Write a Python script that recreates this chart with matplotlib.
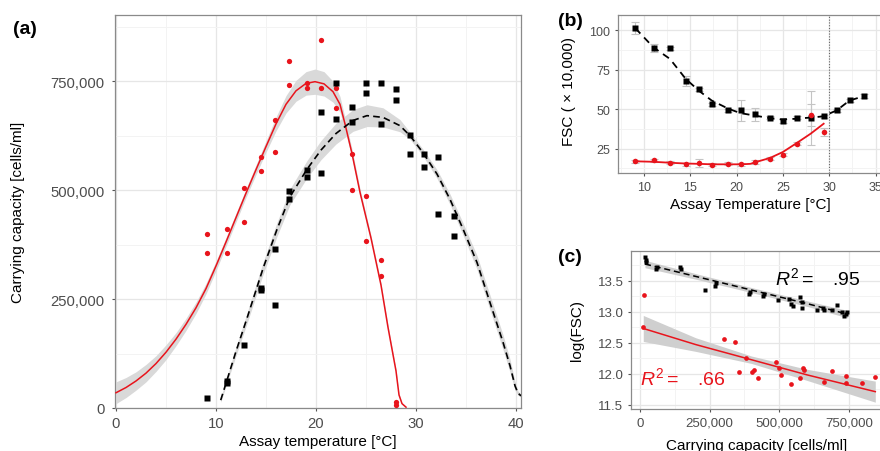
import numpy as np
import matplotlib
matplotlib.use('Agg')
import matplotlib.pyplot as plt
from matplotlib.ticker import MultipleLocator, FuncFormatter

plt.rcParams['font.family'] = ['Liberation Sans', 'DejaVu Sans']
plt.rcParams['mathtext.fontset'] = 'custom'
plt.rcParams['mathtext.rm'] = 'Liberation Sans'
plt.rcParams['mathtext.it'] = 'Liberation Sans:italic'

RED = '#E8141C'
BAND = '#D9D9D9'

# === (a) carrying capacity vs temperature ===
red_T = [9.07, 9.07, 11.07, 11.07, 12.8, 12.8, 14.5, 14.5, 15.9, 15.9, 17.3, 17.3, 19.1, 19.1,
         20.5, 20.5, 22.0, 22.0, 23.6, 23.6, 25.0, 25.0, 26.5, 26.5, 28.0, 28.0]
red_K = [400e3, 355e3, 410e3, 356e3, 505e3, 428e3, 575e3, 543e3, 660e3, 587e3, 797e3, 741e3, 745e3, 734e3,
         845e3, 735e3, 734e3, 688e3, 584e3, 500e3, 486e3, 383e3, 340e3, 302e3, 14e3, 8e3]
blk_T = [9.07, 11.07, 11.07, 12.8, 14.5, 14.5, 15.9, 15.9, 17.3, 17.3, 19.1, 19.1, 20.5, 20.5,
         22.0, 22.0, 23.6, 23.6, 25.0, 25.0, 26.5, 26.5, 28.0, 28.0, 29.4, 29.4, 30.8, 30.8,
         32.2, 32.2, 33.8, 33.8]
blk_K = [24e3, 63e3, 58e3, 145e3, 275e3, 270e3, 365e3, 236e3, 498e3, 479e3, 547e3, 530e3, 680e3, 540e3,
         746e3, 664e3, 690e3, 656e3, 746e3, 722e3, 746e3, 651e3, 733e3, 707e3, 627e3, 583e3, 584e3, 553e3,
         576e3, 445e3, 440e3, 394e3]

# fitted curves (T, fit, half-width of ribbon)
red_fit_T = [0, 1, 2, 3, 4, 5, 6, 7, 8, 9, 10, 11, 12, 13, 14, 15, 16, 17, 18, 19, 19.9, 20.8,
             21.7, 22.4, 22.9, 23.6, 24.4, 25.5, 26.5, 27.2, 28.0, 28.3, 28.6, 29.0]
red_fit_K = [35e3, 47e3, 62e3, 80e3, 102e3, 128e3, 158e3, 192e3, 230e3, 274e3, 326e3, 381e3, 437e3,
             493e3, 547e3, 600e3, 652e3, 697e3, 728e3, 745e3, 749e3, 744e3, 726e3, 697e3, 652e3,
             584e3, 495e3, 390e3, 282e3, 185e3, 85e3, 30e3, 10e3, 2e3]
red_fit_se = [25e3, 23e3, 21e3, 20e3, 18e3, 17e3, 15e3, 14e3, 13e3, 12e3, 11e3, 10e3, 10e3, 10e3,
              11e3, 13e3, 16e3, 20e3, 24e3, 27e3, 29e3, 28e3, 24e3, 18e3, 14e3, 10e3, 8e3, 6e3,
              5e3, 5e3, 4e3, 3e3, 2e3, 1e3]
blk_fit_T = [10.47, 12.0, 13.1, 14.7, 16.1, 17.4, 19.1, 20.5, 22.0, 23.7, 25.1, 26.7, 28.4, 29.4,
             30.7, 32.1, 33.4, 34.7, 36.1, 37.4, 38.7, 39.4, 39.9, 40.2, 40.5]
blk_fit_K = [18e3, 130e3, 206e3, 320e3, 410e3, 485e3, 548e3, 592e3, 630e3, 660e3, 671e3, 667e3,
             648e3, 625e3, 586e3, 537e3, 479e3, 411e3, 334e3, 242e3, 151e3, 97e3, 51e3, 34e3, 28e3]
blk_fit_se = [5e3, 10e3, 12e3, 14e3, 16e3, 18e3, 20e3, 22e3, 24e3, 25e3, 25e3, 22e3, 14e3, 8e3,
              8e3, 10e3, 12e3, 14e3, 16e3, 17e3, 17e3, 15e3, 10e3, 5e3, 3e3]

# === (b) FSC vs temperature ===
fsc_T_blk = [9.07, 11.07, 12.8, 14.5, 15.9, 17.3, 19.1, 20.5, 22.0, 23.6, 25.0, 26.5, 28.0, 29.4,
             30.8, 32.2, 33.8]
fsc_blk = [101.1, 88.5, 88.5, 67.6, 62.6, 53.1, 49.1, 49.1, 46.6, 44.5, 42.4, 44.5, 44.5, 45.3,
           49.1, 55.4, 58.2]
fsc_blk_err = [3.8, 2.5, 1.0, 3.0, 1.0, 1.0, 1.0, 6.5, 4.0, 1.0, 1.0, 1.0, 17.0, 1.0, 1.0, 1.0, 1.0]
fsc_T_red = [9.07, 11.07, 12.8, 14.5, 15.9, 17.3, 19.1, 20.5, 22.0, 23.6, 25.0, 26.5, 28.0, 29.4]
fsc_red = [16.9, 17.5, 15.9, 15.0, 16.1, 14.8, 15.5, 15.0, 16.5, 18.6, 21.1, 28.1, 46.4, 35.5]
fsc_red_err = [1.0, 1.0, 1.0, 1.0, 2.5, 1.0, 1.0, 1.0, 1.0, 1.0, 1.0, 1.0, 7.0, 2.7]
fsc_fit_T_blk = [9.07, 11.0, 12.8, 14.5, 15.9, 17.3, 19.1, 20.4, 21.9, 23.5, 24.9, 26.3, 27.8, 29.3,
                 30.8, 32.2, 33.8]
fsc_fit_blk = [101.1, 89.1, 81.7, 69.1, 61.7, 55.4, 50.2, 47.4, 45.9, 44.3, 43.4, 43.8, 44.5, 45.3,
               49.1, 55.4, 58.2]
fsc_fit_T_red = [9.07, 11.0, 12.8, 14.5, 15.9, 17.3, 19.1, 20.5, 21.5, 22.0, 23.6, 25.0, 26.5, 28.0, 29.4]
fsc_fit_red = [16.9, 16.6, 16.0, 15.5, 15.3, 15.0, 15.0, 15.0, 15.3, 16.3, 19.0, 22.8, 28.5, 34.4, 40.7]

# === (c) log(FSC) vs carrying capacity ===
c_blk_K = [18e3, 20e3, 21.5e3, 57e3, 62e3, 143e3, 146e3, 234e3, 269e3, 273e3, 392e3, 394e3, 442e3,
           445e3, 496e3, 536e3, 540e3, 550e3, 574e3, 580e3, 582e3, 634e3, 657e3, 661e3, 688e3, 706e3,
           723e3, 732e3, 738e3, 744e3]
c_blk_y = [13.88, 13.84, 13.81, 13.69, 13.72, 13.72, 13.69, 13.355, 13.42, 13.47, 13.285, 13.32, 13.25,
           13.29, 13.19, 13.205, 13.12, 13.10, 13.23, 13.15, 13.055, 13.03, 13.055, 13.03, 13.03, 13.11,
           12.99, 12.93, 12.96, 13.0]
c_red_K = [15e3, 12e3, 302e3, 341e3, 355e3, 380e3, 401e3, 409e3, 424e3, 488e3, 500e3, 506e3, 540e3,
           574e3, 586e3, 590e3, 660e3, 688e3, 738e3, 739e3, 797e3, 844e3]
c_red_y = [13.27, 12.76, 12.56, 12.51, 12.02, 12.26, 12.03, 12.06, 11.93, 12.19, 12.09, 11.98, 11.83,
           11.93, 12.09, 12.06, 11.87, 12.04, 11.97, 11.85, 11.85, 11.94]
c_red_line_K = [12e3, 200e3, 400e3, 600e3, 844e3]
c_red_line_y = [12.73, 12.47, 12.225, 11.98, 11.71]
c_red_line_se = [0.21, 0.11, 0.06, 0.09, 0.17]
c_blk_line_K = [18e3, 200e3, 400e3, 600e3, 745e3]
c_blk_line_y = [13.77, 13.57, 13.35, 13.13, 12.96]
c_blk_line_se = [0.06, 0.045, 0.04, 0.045, 0.06]


def ggstyle(ax, ts):
    ax.set_facecolor('white')
    ax.grid(True, which='major', color='#E6E6E6', lw=0.9, zorder=0)
    ax.grid(True, which='minor', color='#F3F3F3', lw=0.7, zorder=0)
    ax.set_axisbelow(True)
    for s in ax.spines.values():
        s.set_color('#8A8A8A')
        s.set_linewidth(0.9)
    ax.tick_params(which='major', length=2.5, width=0.8, color='#555555', labelcolor='#4D4D4D',
                   labelsize=ts, pad=3)
    ax.tick_params(which='minor', length=0)


W, H = 880, 452
fig = plt.figure(figsize=(W / 100, H / 100), dpi=100)


def place(l, t, r, b):
    return fig.add_axes([l / W, 1 - b / H, (r - l) / W, (b - t) / H])


# (a)
ax = place(115, 16, 521, 409)
ax.fill_between(red_fit_T, np.array(red_fit_K) - red_fit_se, np.array(red_fit_K) + red_fit_se,
                color=BAND, lw=0, zorder=1)
ax.fill_between(blk_fit_T, np.array(blk_fit_K) - blk_fit_se, np.array(blk_fit_K) + blk_fit_se,
                color=BAND, lw=0, zorder=1)
ax.plot(red_fit_T, red_fit_K, color=RED, lw=1.1, zorder=3)
ax.plot(blk_fit_T, blk_fit_K, color='black', lw=1.2, dashes=(4, 2.5), zorder=3)
ax.plot(red_T, red_K, 'o', color=RED, ms=3.8, mec='none', zorder=4)
ax.plot(blk_T, blk_K, 's', color='black', ms=4.6, mec='none', zorder=4)
ax.set_xlim(-0.1, 40.5)
ax.set_ylim(0, 902000)
ax.xaxis.set_major_locator(MultipleLocator(10))
ax.xaxis.set_minor_locator(MultipleLocator(5))
ax.yaxis.set_major_locator(MultipleLocator(250000))
ax.yaxis.set_minor_locator(MultipleLocator(125000))
ax.yaxis.set_major_formatter(FuncFormatter(lambda v, p: f'{int(v):,}'))
ggstyle(ax, 10.7)
ax.tick_params(axis='y', pad=5)
fig.text(318 / W, 1 - 442 / H, 'Assay temperature [°C]', ha='center', va='center', fontsize=11)
fig.text(18 / W, 1 - 212 / H, 'Carrying capacity [cells/ml]', ha='center', va='center',
         rotation=90, fontsize=11)
fig.text(13 / W, 1 - 29 / H, '(a)', ha='left', va='center', fontsize=14, fontweight='bold')

# (b)
bx = place(618, 16, 887, 174)
bx.axvline(30, color='#666666', lw=0.8, ls=(0, (1, 1.5)), zorder=2)
bx.errorbar(fsc_T_blk, fsc_blk, yerr=fsc_blk_err, fmt='none', ecolor='#C4C4C4', elinewidth=0.8,
            capsize=3, capthick=0.8, zorder=2)
bx.errorbar(fsc_T_red, fsc_red, yerr=fsc_red_err, fmt='none', ecolor='#C4C4C4', elinewidth=0.8,
            capsize=3, capthick=0.8, zorder=2)
bx.plot(fsc_fit_T_blk, fsc_fit_blk, color='black', lw=1.3, dashes=(4, 3), zorder=3)
bx.plot(fsc_fit_T_red, fsc_fit_red, color=RED, lw=1.3, zorder=3)
bx.plot(fsc_T_blk, fsc_blk, 's', color='black', ms=4.4, mec='none', zorder=4)
bx.plot(fsc_T_red, fsc_red, 'o', color=RED, ms=4.0, mec='none', zorder=4)
bx.set_xlim(7.19, 36.24)
bx.set_ylim(9.5, 109.5)
bx.xaxis.set_major_locator(MultipleLocator(5))
bx.xaxis.set_minor_locator(MultipleLocator(2.5))
bx.yaxis.set_major_locator(MultipleLocator(25))
bx.yaxis.set_minor_locator(MultipleLocator(12.5))
ggstyle(bx, 9)
fig.text(750 / W, 1 - 205 / H, 'Assay Temperature [°C]', ha='center', va='center', fontsize=11)
fig.text(569 / W, 1 - 92 / H, 'FSC ( × 10,000)', ha='center', va='center', rotation=90, fontsize=11)
fig.text(558 / W, 1 - 21 / H, '(b)', ha='left', va='center', fontsize=14, fontweight='bold')

# (c)
cx = place(631, 252, 887, 410)
cx.fill_between(c_red_line_K, np.array(c_red_line_y) - c_red_line_se,
                np.array(c_red_line_y) + c_red_line_se, color='#CFCFCF', lw=0, zorder=1)
cx.fill_between(c_blk_line_K, np.array(c_blk_line_y) - c_blk_line_se,
                np.array(c_blk_line_y) + c_blk_line_se, color='#CFCFCF', lw=0, zorder=1)
cx.plot(c_red_line_K, c_red_line_y, color=RED, lw=1.1, zorder=3)
cx.plot(c_blk_line_K, c_blk_line_y, color='black', lw=1.1, dashes=(4, 2.5), zorder=3)
cx.plot(c_blk_K, c_blk_y, 's', color='black', ms=3.4, mec='none', zorder=4)
cx.plot(c_red_K, c_red_y, 'o', color=RED, ms=3.4, mec='none', zorder=4)
cx.set_xlim(-32000, 886000)
cx.set_ylim(11.43, 13.98)
cx.xaxis.set_major_locator(MultipleLocator(250000))
cx.xaxis.set_minor_locator(MultipleLocator(125000))
cx.yaxis.set_major_locator(MultipleLocator(0.5))
cx.yaxis.set_minor_locator(MultipleLocator(0.25))
cx.xaxis.set_major_formatter(FuncFormatter(lambda v, p: f'{int(v):,}'))
cx.yaxis.set_major_formatter(FuncFormatter(lambda v, p: f'{v:.1f}'))
ggstyle(cx, 9.5)
cx.text(484000, 13.56, r'$R^2=$   .95', ha='left', va='center', fontsize=14, color='black', zorder=5)
cx.text(0, 11.95, r'$R^2=$   .66', ha='left', va='center', fontsize=14, color=RED, zorder=5)
fig.text(757 / W, 1 - 446 / H, 'Carrying capacity [cells/ml]', ha='center', va='center', fontsize=11)
fig.text(577 / W, 1 - 331 / H, 'log(FSC)', ha='center', va='center', rotation=90, fontsize=11)
fig.text(558 / W, 1 - 258 / H, '(c)', ha='left', va='center', fontsize=14, fontweight='bold')

fig.savefig('out.png', dpi=100)
